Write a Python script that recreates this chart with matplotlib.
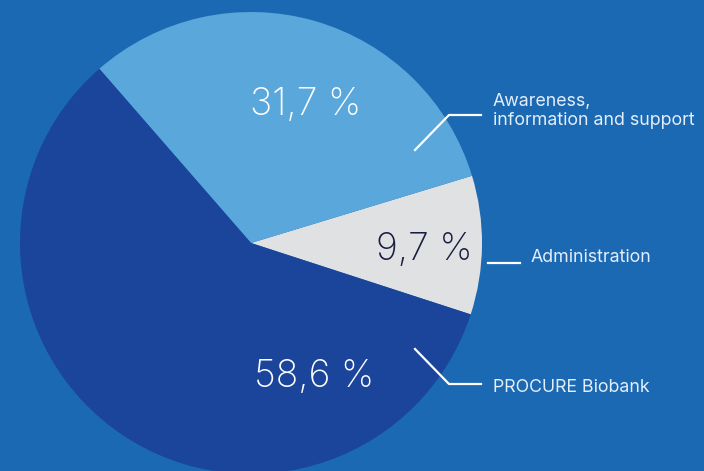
import matplotlib
matplotlib.use("Agg")
import matplotlib.pyplot as plt

# budget split (%), counter-clockwise from the lower right
categories = ["Administration", "Awareness,\ninformation and support", "PROCURE Biobank"]
shares = [9.7, 31.7, 58.6]
pct_labels = ["9,7 %", "31,7 %", "58,6 %"]

BG = "#1b68b3"
COLORS = ["#e0e1e3", "#5aa7dc", "#1b449b"]
TXT = "#e3eef9"

W, H = 704, 471
fig = plt.figure(figsize=(W / 100, H / 100), dpi=100, facecolor=BG)
ax = fig.add_axes([0, 0, 1, 1])
ax.set_facecolor(BG)

cx, cy, r = 251, H - 243, 231
ax.pie(shares, colors=COLORS, radius=r, center=(cx, cy), startangle=-18,
       counterclock=True, wedgeprops=dict(linewidth=0))
ax.set_xlim(0, W); ax.set_ylim(0, H)
ax.set_aspect("equal")
ax.axis("off")

fam = ["Inter", "Roboto", "DejaVu Sans"]
# percentage labels inside wedges
ax.text(424, H - 250, pct_labels[0], color="#1a1c40", fontsize=27, family=fam,
        weight="light", ha="center", va="center")
ax.text(306, H - 105, pct_labels[1], color="white", fontsize=27, family=fam,
        weight="light", ha="center", va="center")
ax.text(314, H - 377, pct_labels[2], color="white", fontsize=27, family=fam,
        weight="light", ha="center", va="center")

# leader lines + category labels
lw = 1.6
ax.plot([415, 449, 481], [H - 150, H - 115, H - 115], color="white", lw=lw)
ax.text(493, H - 111, categories[1], color=TXT, fontsize=12.8, family=fam,
        ha="left", va="center", linespacing=1.1)
ax.plot([488, 520], [H - 263, H - 263], color="white", lw=lw)
ax.text(531, H - 257, categories[0], color=TXT, fontsize=12.8, family=fam,
        ha="left", va="center")
ax.plot([415, 449, 481], [H - 349, H - 384, H - 384], color="white", lw=lw)
ax.text(493, H - 387, categories[2], color=TXT, fontsize=12.8, family=fam,
        ha="left", va="center")

fig.savefig("out.png", dpi=100, facecolor=BG)
